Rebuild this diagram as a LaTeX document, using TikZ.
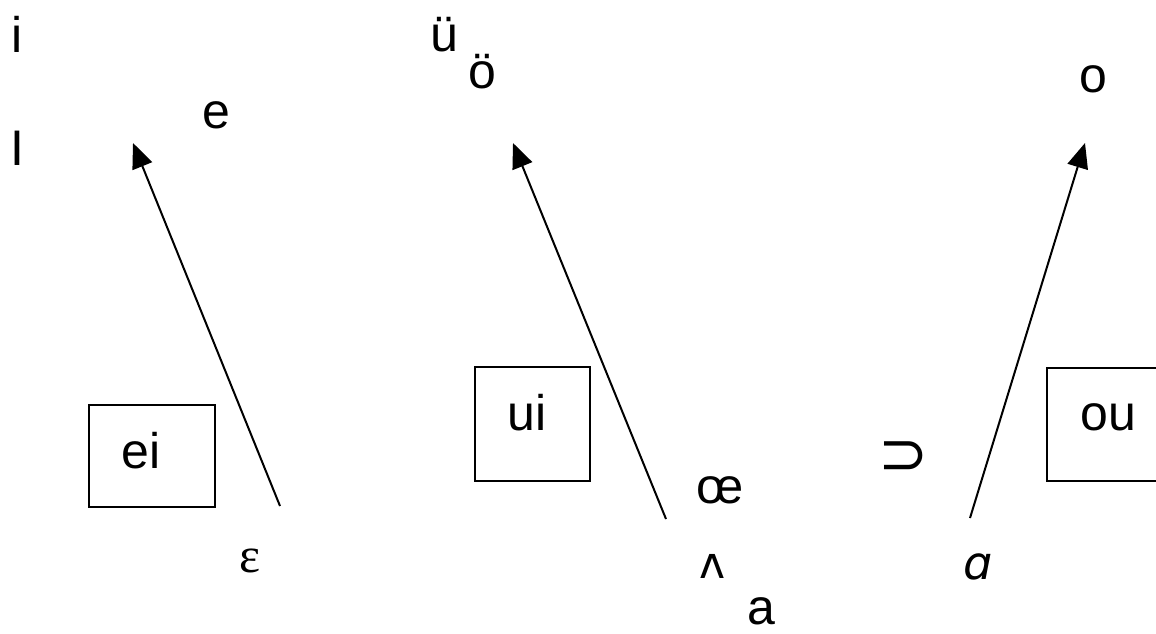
\documentclass[tikz,border=0pt]{standalone}
\usepackage{fontspec}
\setmainfont{Liberation Sans}
\newfontfamily\serifipa{Liberation Serif}
\newfontfamily\dvs{DejaVu Sans}
\usetikzlibrary{arrows.meta}
\begin{document}
\begin{tikzpicture}[x=0.5pt,y=-0.5pt,
  lbl/.style={anchor=base, inner sep=0pt, font=\fontsize{25}{30}\selectfont},
  vbox/.style={draw, line width=1pt, inner sep=0pt, font=\fontsize{25}{30}\selectfont},
  arr/.style={line width=1pt, -{Triangle[length=12.5pt,width=10.5pt]}}]
\useasboundingbox (0,0) rectangle (1156,633);
\clip (0,0) rectangle (1156,633);
\fill[white] (0,0) rectangle (1156,633);
% left group
\node[lbl] (i) at (17,52) {i};
\node[lbl] (I) at (17,165) {I};
\node[lbl] (e) at (216,128) {e};
\node[vbox, minimum width=63pt, minimum height=51pt] (ei) at (152,456) {\raisebox{6pt}{ei}\kern11pt};
\node[lbl, font=\serifipa\fontsize{25}{30}\selectfont] (eps) at (250,572) {ε};
\coordinate (t1) at (280,506);
\coordinate (h1) at (133,143);
\draw[arr] (t1) -- (h1);
% middle group
\node[lbl] (uu) at (444,51) {ü};
\node[lbl] (oo) at (482,88) {ö};
\node[vbox, minimum width=57.5pt, minimum height=57pt] (ui) at (532.5,424) {\raisebox{12pt}{ui}\kern5.5pt};
\node[lbl] (oe) at (720,503) {œ};
\node[lbl, font=\dvs\fontsize{22}{26}\selectfont] (wedge) at (713,578) {ʌ};
\node[lbl] (a) at (761,624) {a};
\coordinate (t2) at (666,519);
\coordinate (h2) at (513,143);
\draw[arr] (t2) -- (h2);
% right group
\node[lbl] (o) at (1093,92) {o};
\node[vbox, minimum width=61.5pt, minimum height=56.5pt] (ou) at (1108.5,424.5) {\raisebox{7pt}{ou}};
\node[inner sep=0pt, font=\dvs\fontsize{30}{34}\selectfont] (sup) at (904,458) {⊃};
\node[lbl, font=\dvs\itshape\fontsize{23}{28}\selectfont] (alpha) at (978,579) {ɑ};
\coordinate (t3) at (970,518);
\coordinate (h3) at (1085,143);
\draw[arr] (t3) -- (h3);
\end{tikzpicture}
\end{document}
